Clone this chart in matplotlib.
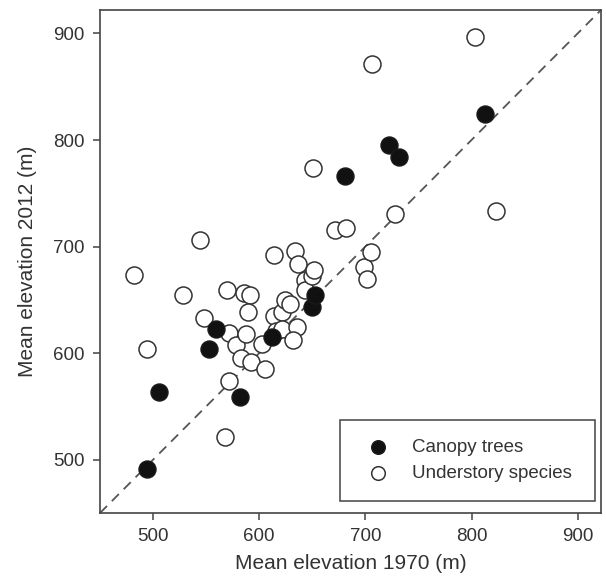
import numpy as np
import matplotlib
matplotlib.use('Agg')
import matplotlib.pyplot as plt

plt.rcParams['font.family'] = ['Liberation Sans', 'DejaVu Sans']

# canopy trees (filled)
canopy_1970 = [494, 506, 553, 559, 582, 612, 650, 653, 681, 722, 732, 813]
canopy_2012 = [491, 564, 604, 623, 559, 615, 643, 655, 766, 795, 784, 824]

# understory species (open)
under_1970 = [482, 494, 528, 544, 548, 568, 572, 570, 572, 578, 583, 586, 591,
              588, 589, 592, 603, 605, 614, 614, 616, 621, 621, 624, 629, 634,
              637, 636, 632, 643, 643, 650, 652, 651, 671, 682, 699, 702, 705,
              706, 728, 803, 823]
under_2012 = [673, 604, 655, 706, 633, 521, 574, 659, 619, 608, 595, 656, 655,
              618, 639, 592, 609, 585, 692, 635, 621, 639, 623, 650, 646, 696,
              684, 625, 612, 669, 659, 672, 678, 774, 716, 717, 681, 670, 695,
              871, 731, 897, 733]

lims = (450, 922)
ticks = [500, 600, 700, 800, 900]

fig = plt.figure(figsize=(6.06, 5.79), dpi=100)
ax = fig.add_axes([100/606, 66/579, 501/606, 503/579])

ax.plot(lims, lims, color='#555555', lw=1.3, dashes=(5.5, 3.8), zorder=1)
ax.scatter(canopy_1970, canopy_2012, s=150, c='#111111', edgecolors='#1a1a1a',
           linewidths=1.0, label='Canopy trees', zorder=3)
ax.scatter(under_1970, under_2012, s=150, c='white', edgecolors='#333333',
           linewidths=1.1, label='Understory species', zorder=2)

ax.set_xlim(lims)
ax.set_ylim(lims)
ax.set_xticks(ticks)
ax.set_yticks(ticks)
ax.tick_params(direction='out', length=5, width=1.1, colors='#444444',
               labelcolor='#333333', labelsize=13.5, pad=6)
for sp in ax.spines.values():
    sp.set_color('#444444')
    sp.set_linewidth(1.2)

ax.set_xlabel('Mean elevation 1970 (m)', fontsize=15, color='#333333', labelpad=6)
ax.set_ylabel('Mean elevation 2012 (m)', fontsize=15, color='#333333', labelpad=12)

leg = ax.legend(loc='lower left', bbox_to_anchor=(0.479, 0.024, 0.509, 0.155),
                mode='expand', borderaxespad=0,
                fancybox=False, edgecolor='#444444', framealpha=1, fontsize=13.5,
                handletextpad=0.77, borderpad=1.0, labelspacing=0.5,
                handlelength=2.05, scatterpoints=1, markerscale=0.8)
leg.get_frame().set_linewidth(1.1)
for t in leg.get_texts():
    t.set_color('#333333')

plt.savefig('out.png', dpi=100)
